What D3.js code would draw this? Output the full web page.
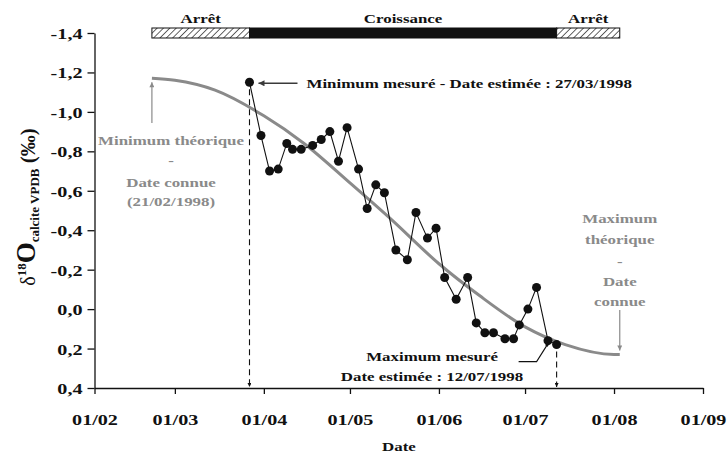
<!DOCTYPE html>
<html>
<head>
<meta charset="utf-8">
<script src="https://cdn.jsdelivr.net/npm/d3@7"></script>
<style>
  html, body { margin: 0; padding: 0; background: #fff; }
  svg { display: block; }
  text { font-family: "Liberation Serif", "Times New Roman", serif; font-weight: bold; }
</style>
</head>
<body>
<svg id="chart" width="728" height="456"></svg>
<script>
// Measured δ18O of calcite (‰ VPDB), one value per estimated date (1998)
const measureDates = ["27/03","31/03","03/04","06/04","09/04","11/04","14/04","18/04","21/04","24/04",
  "27/04","30/04","04/05","07/05","10/05","13/05","17/05","21/05","24/05","28/05",
  "31/05","03/06","07/06","11/06","14/06","17/06","20/06","24/06","27/06","29/06",
  "02/07","05/07","09/07","12/07"];
const d18O = [-1.15,-0.88,-0.70,-0.71,-0.84,-0.81,-0.81,-0.83,-0.86,-0.90,
  -0.75,-0.92,-0.71,-0.51,-0.63,-0.59,-0.30,-0.25,-0.49,-0.36,
  -0.41,-0.16,-0.05,-0.16,0.07,0.12,0.12,0.15,0.15,0.08,
  0.00,-0.11,0.16,0.18];

// Theoretical seasonal curve, from the known minimum (21/02) to the known maximum
const theoDates = ["21/02","01/03","15/03","01/04","15/04","01/05","15/05","01/06","15/06","01/07","15/07","01/08","03/08"];
const theoValues = [-1.17,-1.16,-1.11,-0.98,-0.84,-0.64,-0.46,-0.23,-0.07,0.09,0.18,0.23,0.23];

// Growth phases shown in the band above the plot
const phaseLabels = ["Arrêt","Croissance","Arrêt"];
const phaseStart = ["21/02","27/03","12/07"];
const phaseEnd = ["27/03","12/07","03/08"];

// Axes
const xTickLabels = ["01/02","01/03","01/04","01/05","01/06","01/07","01/08","01/09"];
const yTickValues = [-1.4,-1.2,-1.0,-0.8,-0.6,-0.4,-0.2,0.0,0.2,0.4];

const parseDay = s => d3.utcParse("%d/%m/%Y")(s + "/1998");
const SX = 1.3; // horizontal stretch of the typeface

const svg = d3.select("#chart");
const x = d3.scaleUtc().domain([parseDay("01/02"), parseDay("01/09")]).range([94.5, 703]);
const y = d3.scaleLinear().domain([-1.4, 0.4]).range([33, 388]);
const fmt = d3.formatLocale({decimal: ",", thousands: " ", grouping: [3], currency: ["", ""], minus: "-"}).format(".1f");

// defs: hatch pattern and arrowheads
const defs = svg.append("defs");
const pat = defs.append("pattern").attr("id", "hatch").attr("patternUnits", "userSpaceOnUse")
  .attr("width", 4.5).attr("height", 4.5).attr("patternTransform", "rotate(45)");
pat.append("rect").attr("width", 4.5).attr("height", 4.5).attr("fill", "#fff");
pat.append("line").attr("x1", 0).attr("y1", 0).attr("x2", 0).attr("y2", 4.5).attr("stroke", "#222").attr("stroke-width", 1.4);

function marker(id, color, w, h) {
  defs.append("marker").attr("id", id).attr("viewBox", "0 0 10 10").attr("refX", 10).attr("refY", 5)
    .attr("markerUnits", "userSpaceOnUse").attr("markerWidth", w).attr("markerHeight", h).attr("orient", "auto")
    .append("path").attr("d", "M0,0 L10,5 L0,10 Z").attr("fill", color);
}
marker("arrGray", "#8a8a8a", 7, 5);
marker("arrDark", "#3a3a3a", 9, 6);
marker("arrBlack", "#111", 6, 4);

function label(parent, px, py, str, size, fill, anchor) {
  return parent.append("text")
    .attr("transform", `translate(${px},${py}) scale(${SX},1)`)
    .attr("text-anchor", anchor || "middle")
    .attr("font-size", size).attr("fill", fill || "#111")
    .text(str);
}

// Phase band
const band = svg.append("g");
phaseLabels.forEach((lab, i) => {
  const x0 = x(parseDay(phaseStart[i])), x1 = x(parseDay(phaseEnd[i]));
  band.append("rect").attr("x", x0).attr("y", 28).attr("width", x1 - x0).attr("height", 10)
    .attr("fill", lab === "Croissance" ? "#111" : "url(#hatch)")
    .attr("stroke", "#111").attr("stroke-width", 1);
  label(band, (x0 + x1) / 2, 23, lab, 13);
});

// Y axis
const yAxis = svg.append("g").attr("transform", "translate(94.5,0)")
  .call(d3.axisLeft(y).tickValues(yTickValues).tickFormat(fmt).tickSize(7).tickSizeOuter(0));
yAxis.selectAll("text").attr("x", null).attr("dy", null)
  .attr("transform", `translate(-12,5.5) scale(${SX},1)`)
  .attr("font-size", 15.5).attr("fill", "#111")
  .style("font-family", "'Liberation Serif', serif").style("font-weight", "bold");

// X axis
const xAxis = svg.append("g").attr("transform", "translate(0,388)")
  .call(d3.axisBottom(x).tickValues(xTickLabels.map(parseDay))
    .tickFormat((d, i) => xTickLabels[i]).tickSize(6).tickSizeOuter(0));
xAxis.selectAll("text").attr("y", null).attr("dy", null)
  .attr("transform", `translate(0,37) scale(${SX},1)`)
  .attr("font-size", 15.5).attr("fill", "#111")
  .style("font-family", "'Liberation Serif', serif").style("font-weight", "bold");
svg.selectAll(".domain, .tick line").attr("stroke", "#111").attr("stroke-width", 1.3);

// Axis titles
label(svg, 399, 451, "Date", 13);
const yTitle = svg.append("text")
  .attr("transform", "translate(35,207) rotate(-90)")
  .attr("text-anchor", "middle").attr("fill", "#111");
yTitle.append("tspan").attr("font-size", 20).attr("font-weight", "normal").text("δ");
yTitle.append("tspan").attr("font-size", 13).attr("dy", -9).text("18");
yTitle.append("tspan").attr("font-size", 27).attr("dy", 9).text("O");
yTitle.append("tspan").attr("font-size", 13).attr("dy", 4).text("calcite VPDB");
yTitle.append("tspan").attr("font-size", 21).attr("dy", -4).text(" (‰)");

// Theoretical curve
const theo = theoDates.map((d, i) => ({date: parseDay(d), v: theoValues[i]}));
svg.append("path").datum(theo)
  .attr("d", d3.line().x(d => x(d.date)).y(d => y(d.v)).curve(d3.curveMonotoneX))
  .attr("fill", "none").attr("stroke", "#8a8a8a").attr("stroke-width", 3);

// Measured series
const meas = measureDates.map((d, i) => ({date: parseDay(d), v: d18O[i]}));
const first = meas[0], last = meas[meas.length - 1];

// Dashed drop lines at the estimated dates
[first, last].forEach(p => {
  svg.append("line").attr("x1", x(p.date)).attr("x2", x(p.date))
    .attr("y1", y(p.v) + 7).attr("y2", y(0.4) - 1)
    .attr("stroke", "#111").attr("stroke-width", 1.1).attr("stroke-dasharray", "6,4")
    .attr("marker-end", "url(#arrBlack)");
});

svg.append("path").datum(meas)
  .attr("d", d3.line().x(d => x(d.date)).y(d => y(d.v)))
  .attr("fill", "none").attr("stroke", "#111").attr("stroke-width", 1.1);
svg.append("g").selectAll("circle").data(meas).join("circle")
  .attr("cx", d => x(d.date)).attr("cy", d => y(d.v)).attr("r", 4.5).attr("fill", "#111");

// Theoretical extremes annotations (gray)
const t0 = theo[0], t1 = theo[theo.length - 1];
const gray = "#8a8a8a";
svg.append("line").attr("x1", x(t0.date)).attr("x2", x(t0.date))
  .attr("y1", 123).attr("y2", y(t0.v) + 4)
  .attr("stroke", gray).attr("stroke-width", 1.2).attr("marker-end", "url(#arrGray)");
const leftNote = ["Minimum théorique", "-", "Date connue", "(21/02/1998)"];
const leftY = [145, 165, 187, 206];
leftNote.forEach((s, i) => label(svg, 171, leftY[i], s, 13, gray));

svg.append("line").attr("x1", x(t1.date)).attr("x2", x(t1.date))
  .attr("y1", 310).attr("y2", y(t1.v) - 4)
  .attr("stroke", gray).attr("stroke-width", 1.2).attr("marker-end", "url(#arrGray)");
const rightNote = ["Maximum", "théorique", "-", "Date", "connue"];
const rightY = [223, 244, 266, 286, 306];
rightNote.forEach((s, i) => label(svg, x(t1.date), rightY[i], s, 13, gray));

// Measured extremes annotations
svg.append("line").attr("x1", x(first.date) + 48).attr("x2", x(first.date) + 9)
  .attr("y1", y(first.v) + 1).attr("y2", y(first.v) + 1)
  .attr("stroke", "#3a3a3a").attr("stroke-width", 1.6).attr("marker-end", "url(#arrDark)");
label(svg, x(first.date) + 57, y(first.v) + 5.5, "Minimum mesuré - Date estimée : 27/03/1998", 13, "#111", "start");

const lx = x(last.date), ly = y(last.v);
svg.append("path")
  .attr("d", `M${lx - 38},${ly + 17} L${lx - 20},${ly + 17} L${lx - 8},${ly - 2}`)
  .attr("fill", "none").attr("stroke", "#111").attr("stroke-width", 1.1).attr("marker-end", "url(#arrBlack)");
label(svg, 432, 361, "Maximum mesuré", 13);
label(svg, 432, 381, "Date estimée : 12/07/1998", 13);
</script>
</body>
</html>
